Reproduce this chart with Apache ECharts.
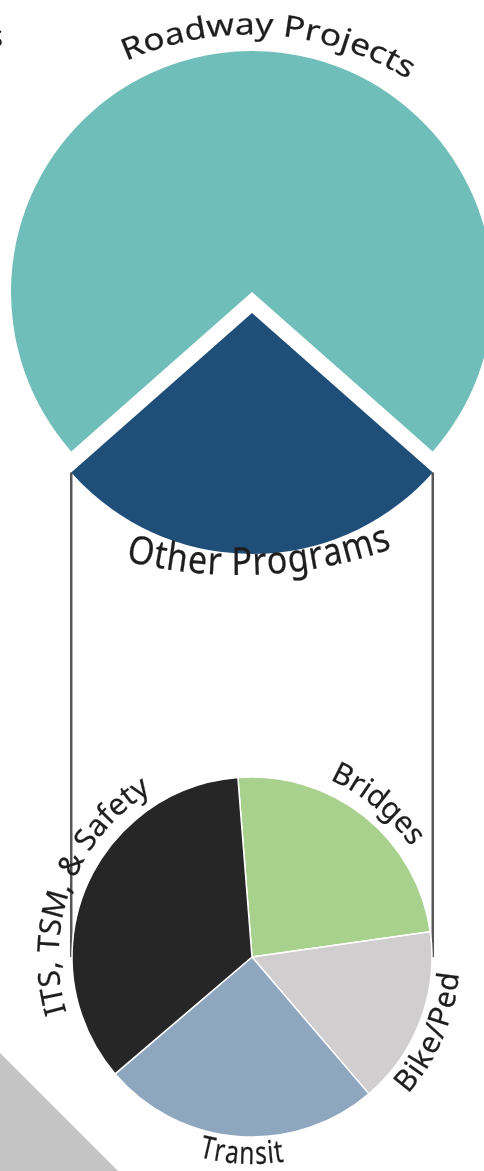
<!DOCTYPE html>
<html>
<head>
<meta charset="utf-8">
<script src="https://cdn.jsdelivr.net/npm/echarts@6/dist/echarts.min.js"></script>
<style>
  html, body { margin: 0; padding: 0; background: #ffffff; }
  #chart { width: 484px; height: 1171px; }
</style>
</head>
<body>
<div id="chart"></div>
<script>
// ---- data ----
const mainCategories = ['Roadway Projects', 'Other Programs'];
const mainValues = [73, 27];
const mainColors = ['#6FBEB9', '#1F4E79'];

const subCategories = ['Bridges', 'Bike/Ped', 'Transit', 'ITS, TSM, & Safety'];
const subValues = [24, 16, 25, 35];
const subColors = ['#A9D18E', '#D0CECE', '#8EA7BF', '#262626'];

// ---- layout ----
const W = 484, H = 1171;
const MAIN_C = [252, 292], MAIN_R = 241, EXPLODE = 21;
const SUB_C = [252, 957], SUB_R = 180;
const FONT = '"Noto Sans", "Open Sans", sans-serif';
const TEXT_COLOR = '#1e1e1e';

const mainTotal = mainValues.reduce((a, b) => a + b, 0);
const otherDeg = mainValues[1] / mainTotal * 360;
const roadDeg = mainValues[0] / mainTotal * 360;
// centre the exploded slice on the bottom (math angle 270)
const mainStart = (270 + otherDeg / 2 + roadDeg) % 360;

// corners of the exploded slice -> connector lines
function corner(mathDeg) {
  const a = mathDeg * Math.PI / 180;
  return [MAIN_C[0] + MAIN_R * Math.cos(a), MAIN_C[1] - MAIN_R * Math.sin(a) + EXPLODE];
}
const cRight = corner(270 + otherDeg / 2);
const cLeft = corner(270 - otherDeg / 2);

// curved text helper: characters placed along an arc, stretched to fill the span
const mctx = document.createElement('canvas').getContext('2d');
function curvedText(text, o) {
  const font = o.size + 'px ' + FONT;
  mctx.font = font;
  const chars = Array.from(text);
  const widths = chars.map(c => mctx.measureText(c).width);
  const total = widths.reduce((a, b) => a + b, 0);
  const L = o.span * Math.PI / 180 * o.r;
  const gap = o.gap == null ? 0.5 : o.gap;
  const sx = (L - gap * (chars.length - 1)) / total;
  let p = 0;
  const els = [];
  chars.forEach((c, i) => {
    const w = widths[i] * sx;
    const mid = p + w / 2;
    p += w + gap;
    if (c === ' ') return;
    const offDeg = (mid - L / 2) / o.r * 180 / Math.PI;
    const th = (o.inward ? o.center - offDeg : o.center + offDeg) * Math.PI / 180;
    const x = o.cx + o.r * Math.sin(th);
    const y = o.cy - o.r * Math.cos(th);
    const rot = o.inward ? -(th - Math.PI) : -th;
    els.push({
      type: 'text', x: x, y: y, rotation: rot, scaleX: sx, scaleY: o.scaleY || 1, silent: true, z: 10,
      style: { text: c, fill: TEXT_COLOR, font: font, align: 'center', verticalAlign: 'middle',
               stroke: TEXT_COLOR, lineWidth: 0.2 }
    });
  });
  return els;
}

const labelGraphics = [].concat(
  curvedText(mainCategories[0], { cx: 250, cy: 335, r: 309, center: 3.7, span: 56, size: 30 }),
  curvedText(mainCategories[1], { cx: 239, cy: 118, r: 446, center: 177.4, span: 34, size: 31, scaleY: 1.25, inward: true }),
  curvedText(subCategories[0], { cx: SUB_C[0], cy: SUB_C[1], r: 202, center: 39.5, span: 31.5, size: 30 }),
  curvedText(subCategories[1], { cx: SUB_C[0], cy: SUB_C[1], r: 199, center: 113, span: 37, size: 30, inward: true }),
  curvedText(subCategories[2], { cx: SUB_C[0], cy: SUB_C[1], r: 198, center: 183, span: 24, size: 30, scaleY: 1.05, inward: true }),
  curvedText(subCategories[3], { cx: SUB_C[0], cy: SUB_C[1], r: 202, center: 291, span: 75, size: 30 })
);

const chart = echarts.init(document.getElementById('chart'), null, { renderer: 'canvas', width: W, height: H });

chart.setOption({
  backgroundColor: '#ffffff',
  animation: false,
  series: [
    {
      type: 'pie',
      center: MAIN_C,
      radius: MAIN_R,
      startAngle: mainStart,
      clockwise: true,
      silent: true,
      selectedMode: 'single',
      selectedOffset: EXPLODE,
      label: { show: false },
      labelLine: { show: false },
      emphasis: { disabled: true },
      itemStyle: { borderWidth: 0 },
      data: mainCategories.map((n, i) => ({
        name: n, value: mainValues[i], selected: i === 1,
        itemStyle: { color: mainColors[i] },
        select: { itemStyle: { color: mainColors[i] } }
      }))
    },
    {
      type: 'pie',
      center: SUB_C,
      radius: SUB_R,
      startAngle: 94.5,
      clockwise: true,
      silent: true,
      label: { show: false },
      labelLine: { show: false },
      emphasis: { disabled: true },
      itemStyle: { borderColor: '#ffffff', borderWidth: 1.5 },
      data: subCategories.map((n, i) => ({ name: n, value: subValues[i], itemStyle: { color: subColors[i] } }))
    }
  ],
  graphic: [
    {
      type: 'polygon', silent: true, z: 0,
      shape: { points: [[0, 1053], [118, H], [0, H]] },
      style: { fill: '#C4C4C4' }
    },
    {
      type: 'line', silent: true, z: 0,
      shape: { x1: cLeft[0], y1: cLeft[1], x2: cLeft[0], y2: SUB_C[1] },
      style: { stroke: '#555555', lineWidth: 2.5 }
    },
    {
      type: 'line', silent: true, z: 0,
      shape: { x1: cRight[0], y1: cRight[1], x2: cRight[0], y2: SUB_C[1] },
      style: { stroke: '#555555', lineWidth: 2.5 }
    },
    {
      type: 'text', x: 29, y: 6, silent: true,
      style: { text: 'Investments', fill: TEXT_COLOR, font: '30px ' + FONT, align: 'right', verticalAlign: 'bottom' }
    },
    {
      type: 'text', x: 3, y: 53, silent: true,
      style: { text: 'Programs', fill: TEXT_COLOR, font: '30px ' + FONT, align: 'right', verticalAlign: 'bottom' }
    }
  ].concat(labelGraphics)
});
</script>
</body>
</html>
